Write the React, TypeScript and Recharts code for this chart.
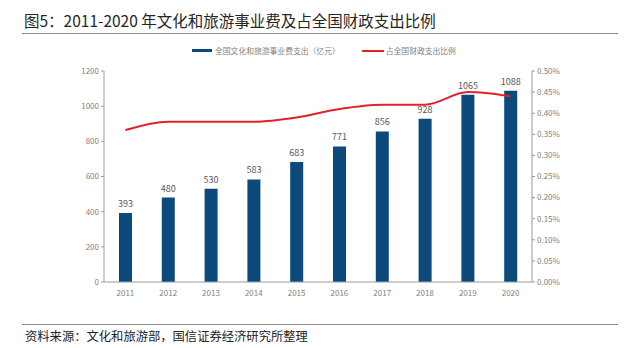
import React from 'react';
import {
  ComposedChart,
  Bar,
  Line,
  XAxis,
  YAxis,
  LabelList,
} from 'recharts';

const years = ['2011', '2012', '2013', '2014', '2015', '2016', '2017', '2018', '2019', '2020'];
const spending = [393, 480, 530, 583, 683, 771, 856, 928, 1065, 1088];
const shareOfFiscal = [0.36, 0.38, 0.38, 0.38, 0.39, 0.41, 0.42, 0.42, 0.45, 0.44];
const leftTicks = [0, 200, 400, 600, 800, 1000, 1200];
const rightTicks = [0, 0.05, 0.1, 0.15, 0.2, 0.25, 0.3, 0.35, 0.4, 0.45, 0.5];

const data = years.map((year, i) => ({
  year,
  spending: spending[i],
  share: shareOfFiscal[i],
}));

const FONT = '"Noto Sans CJK SC", "Noto Sans", sans-serif';
const BAR_COLOR = '#0D4A7C';
const LINE_COLOR = '#E4202B';
const AXIS_COLOR = '#9a9a9a';
const TICK_STYLE = { fontSize: 8, fill: '#7f7f7f', fontFamily: FONT };

const App: React.FC = () => {
  return (
    <div
      style={{
        position: 'absolute',
        left: 0,
        top: 0,
        width: 627,
        height: 348,
        background: '#fff',
        fontFamily: FONT,
      }}
    >
      <div style={{ position: 'absolute', left: 24, top: 10, fontSize: 15.5, lineHeight: '20px', color: '#262626', whiteSpace: 'nowrap' }}>
        图5：2011-2020 年文化和旅游事业费及占全国财政支出比例
      </div>
      <div style={{ position: 'absolute', left: 22, top: 33, width: 596, height: 1, background: '#8c8c8c' }} />

      {/* legend */}
      <div style={{ position: 'absolute', left: 192, top: 45, display: 'flex', alignItems: 'center', fontSize: 7.8, color: '#7f7f7f', whiteSpace: 'nowrap' }}>
        <span style={{ display: 'inline-block', width: 20, height: 3, background: BAR_COLOR, marginRight: 3 }} />
        <span>全国文化和旅游事业费支出（亿元）</span>
        <span style={{ display: 'inline-block', width: 22, height: 2, background: LINE_COLOR, marginLeft: 22, marginRight: 2 }} />
        <span>占全国财政支出比例</span>
      </div>

      <div style={{ position: 'absolute', left: 0, top: 0 }}>
        <ComposedChart
          width={627}
          height={302}
          data={data}
          margin={{ top: 71, right: 35, bottom: 0, left: 64 }}
        >
          <XAxis
            dataKey="year"
            height={20}
            tick={TICK_STYLE}
            tickLine={false}
            axisLine={{ stroke: AXIS_COLOR }}
          />
          <YAxis
            yAxisId="left"
            width={40}
            domain={[0, 1200]}
            ticks={leftTicks}
            tick={TICK_STYLE}
            tickSize={3}
            tickLine={{ stroke: AXIS_COLOR }}
            axisLine={{ stroke: AXIS_COLOR }}
          />
          <YAxis
            yAxisId="right"
            orientation="right"
            width={60}
            domain={[0, 0.5]}
            ticks={rightTicks}
            tickFormatter={(v: number) => `${v.toFixed(2)}%`}
            tick={TICK_STYLE}
            tickSize={3}
            tickLine={{ stroke: AXIS_COLOR }}
            axisLine={{ stroke: AXIS_COLOR }}
          />
          <Bar yAxisId="left" dataKey="spending" fill={BAR_COLOR} barSize={13} isAnimationActive={false}>
            <LabelList dataKey="spending" position="top" offset={6} style={{ fontSize: 9, fill: '#595959', fontFamily: FONT }} />
          </Bar>
          <Line
            yAxisId="right"
            type="monotone"
            dataKey="share"
            stroke={LINE_COLOR}
            strokeWidth={2}
            dot={false}
            isAnimationActive={false}
          />
        </ComposedChart>
      </div>

      <div style={{ position: 'absolute', left: 22, top: 324, width: 596, height: 1, background: '#8c8c8c' }} />
      <div style={{ position: 'absolute', left: 25, top: 328, fontSize: 12.3, lineHeight: '16px', color: '#222', whiteSpace: 'nowrap' }}>
        资料来源：文化和旅游部，国信证券经济研究所整理
      </div>
    </div>
  );
};

export default App;
